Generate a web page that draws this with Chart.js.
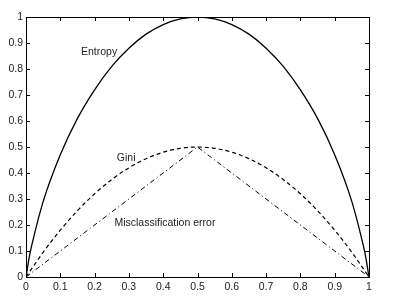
<!DOCTYPE html>
<html>
<head>
<meta charset="UTF-8">
<script src="https://cdn.jsdelivr.net/npm/chart.js"></script>
<style>
    body { margin: 0; background: #fff; }
    #wrap { width: 397px; height: 298px; }
</style>
</head>
<body>
<div id="wrap"><canvas id="c"></canvas></div>
<script>
// impurity curves, values
const entropyX = [0, 0.01, 0.02, 0.05, 0.1, 0.15, 0.2, 0.25, 0.3, 0.35, 0.4, 0.45, 0.5,
                  0.55, 0.6, 0.65, 0.7, 0.75, 0.8, 0.85, 0.9, 0.95, 0.98, 0.99, 1];
const entropyY = [0, 0.08, 0.14, 0.29, 0.47, 0.61, 0.72, 0.81, 0.88, 0.934, 0.971, 0.993, 1,
                  0.993, 0.971, 0.934, 0.88, 0.81, 0.72, 0.61, 0.47, 0.29, 0.14, 0.08, 0];
const giniX = [0, 0.05, 0.1, 0.15, 0.2, 0.25, 0.3, 0.35, 0.4, 0.45, 0.5,
               0.55, 0.6, 0.65, 0.7, 0.75, 0.8, 0.85, 0.9, 0.95, 1];
const giniY = [0, 0.095, 0.18, 0.255, 0.32, 0.375, 0.42, 0.455, 0.48, 0.495, 0.5,
               0.495, 0.48, 0.455, 0.42, 0.375, 0.32, 0.255, 0.18, 0.095, 0];
const missX = [0, 0.5, 1];
const missY = [0, 0.5, 0];
const xTicks = [0, 0.1, 0.2, 0.3, 0.4, 0.5, 0.6, 0.7, 0.8, 0.9, 1];
const yTicks = [0, 0.1, 0.2, 0.3, 0.4, 0.5, 0.6, 0.7, 0.8, 0.9, 1];
const notes = [
    { text: 'Entropy', x: 0.213, y: 0.865 },
    { text: 'Gini', x: 0.292, y: 0.458 },
    { text: 'Misclassification error', x: 0.405, y: 0.208 }
];

const FONT = '"Liberation Sans", Arial, sans-serif';
const pts = (xs, ys) => xs.map((x, i) => ({ x: x, y: ys[i] }));

// frame with inward ticks on all four sides, plus the curve labels
const framePlugin = {
    id: 'frame',
    afterDraw(chart) {
        const ctx = chart.ctx, a = chart.chartArea;
        const xs = chart.scales.x, ys = chart.scales.y;
        ctx.save();
        ctx.strokeStyle = '#000';
        ctx.lineWidth = 1;
        ctx.strokeRect(Math.round(a.left) + 0.5, Math.round(a.top) + 0.5,
                       Math.round(a.right - a.left), Math.round(a.bottom - a.top));
        const t = 4;
        ctx.beginPath();
        xTicks.forEach(v => {
            const px = Math.round(xs.getPixelForValue(v)) + 0.5;
            ctx.moveTo(px, a.bottom); ctx.lineTo(px, a.bottom - t);
            ctx.moveTo(px, a.top); ctx.lineTo(px, a.top + t);
        });
        yTicks.forEach(v => {
            const py = Math.round(ys.getPixelForValue(v)) + 0.5;
            ctx.moveTo(a.left, py); ctx.lineTo(a.left + t, py);
            ctx.moveTo(a.right, py); ctx.lineTo(a.right - t, py);
        });
        ctx.stroke();
        ctx.fillStyle = '#222';
        ctx.font = '10.5px ' + FONT;
        ctx.textAlign = 'center';
        ctx.textBaseline = 'middle';
        notes.forEach(n => {
            ctx.fillText(n.text, xs.getPixelForValue(n.x), ys.getPixelForValue(n.y));
        });
        ctx.restore();
    }
};

new Chart(document.getElementById('c'), {
    type: 'scatter',
    data: {
        datasets: [
            { label: 'Entropy', data: pts(entropyX, entropyY), showLine: true,
              borderColor: '#000', borderWidth: 1.3, pointRadius: 0,
              cubicInterpolationMode: 'monotone' },
            { label: 'Gini', data: pts(giniX, giniY), showLine: true,
              borderColor: '#000', borderWidth: 1.2, pointRadius: 0, borderDash: [4, 3],
              cubicInterpolationMode: 'monotone' },
            { label: 'Misclassification error', data: pts(missX, missY), showLine: true,
              borderColor: '#000', borderWidth: 1, pointRadius: 0, borderDash: [5, 3, 1, 3] }
        ]
    },
    options: {
        responsive: true,
        maintainAspectRatio: false,
        animation: false,
        layout: { padding: { top: 17, right: 28, left: 0, bottom: 0 } },
        plugins: { legend: { display: false }, tooltip: { enabled: false } },
        scales: {
            x: {
                type: 'linear', min: 0, max: 1,
                afterBuildTicks: s => { s.ticks = xTicks.map(v => ({ value: v })); },
                afterFit: s => { s.height = 21; },
                grid: { display: false, drawTicks: false }, border: { display: false },
                ticks: { color: '#222', padding: 4, maxRotation: 0,
                         font: { family: FONT, size: 10.5 },
                         callback: v => String(v) }
            },
            y: {
                type: 'linear', min: 0, max: 1,
                afterBuildTicks: s => { s.ticks = yTicks.map(v => ({ value: v })); },
                afterFit: s => { s.width = 26; },
                grid: { display: false, drawTicks: false }, border: { display: false },
                ticks: { color: '#222', padding: 3,
                         font: { family: FONT, size: 10.5 },
                         callback: v => String(v) }
            }
        }
    },
    plugins: [framePlugin]
});
</script>
</body>
</html>
